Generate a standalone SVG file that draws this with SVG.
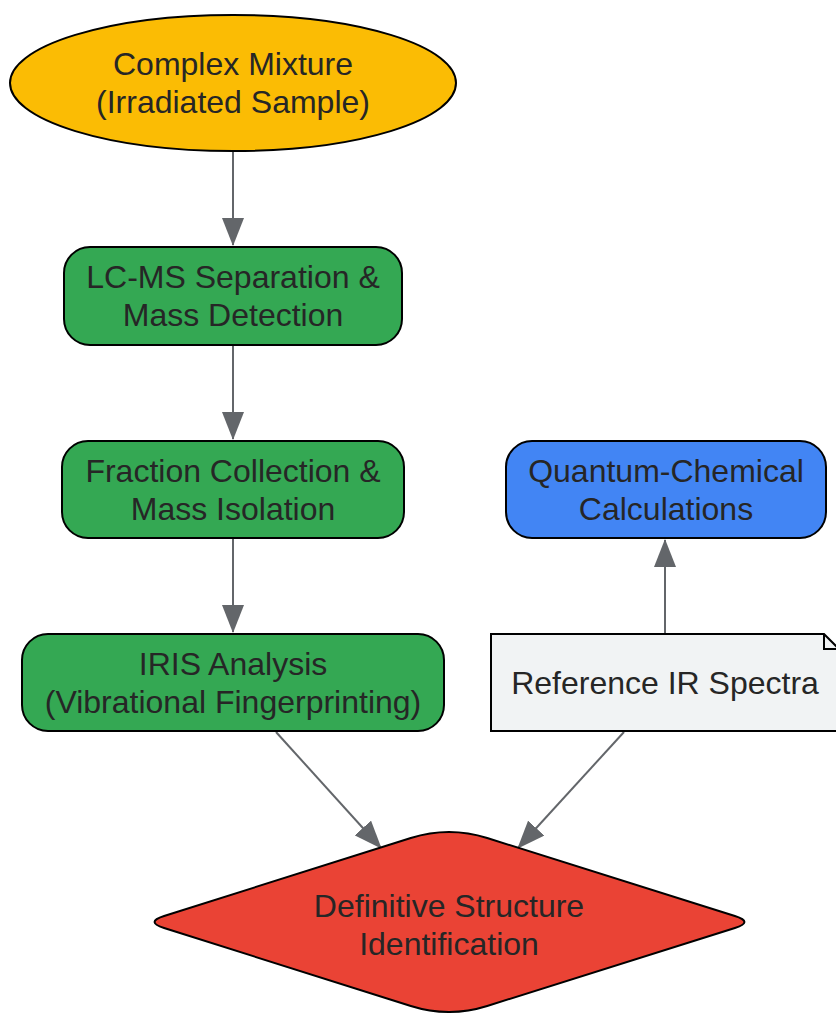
<svg xmlns="http://www.w3.org/2000/svg" width="836" height="1013" viewBox="0 0 836 1013">
<style>
  .node { stroke: #000; stroke-width: 2; }
  .lbl { font-family: "Liberation Sans", Arial, sans-serif; font-size: 32px; fill: #262626; text-anchor: middle; }
  .edge { stroke: #63666a; stroke-width: 2; fill: none; marker-end: url(#arrow); }
</style>
<defs>
  <marker id="arrow" viewBox="0 0 28 22" refX="27" refY="11" markerWidth="28" markerHeight="22" markerUnits="userSpaceOnUse" orient="auto">
    <path d="M0,0 L28,11 L0,22 Z" fill="#63666a"/>
  </marker>
</defs>
<rect width="836" height="1013" fill="#fff"/>
<g id="connectors">
  <path class="edge" d="M233,152 L233,245"/>
  <path class="edge" d="M233,346 L233,439"/>
  <path class="edge" d="M233,539 L233,632"/>
  <path class="edge" d="M665,634 L665,540"/>
  <path class="edge" d="M276,732 L381,848"/>
  <path class="edge" d="M624,732 L518,848"/>
</g>
<g id="mixture">
  <ellipse class="node" cx="233" cy="83" rx="223" ry="68" fill="#fbbc04"/>
  <text class="lbl" x="233" y="75">Complex Mixture</text>
  <text class="lbl" x="233" y="113">(Irradiated Sample)</text>
</g>
<g id="lcms">
  <rect class="node" x="64" y="247" width="338" height="98" rx="26" fill="#34a853"/>
  <text class="lbl" x="233" y="288">LC-MS Separation &amp;</text>
  <text class="lbl" x="233" y="326">Mass Detection</text>
</g>
<g id="fraction">
  <rect class="node" x="62" y="441" width="342" height="97" rx="26" fill="#34a853"/>
  <text class="lbl" x="233" y="482">Fraction Collection &amp;</text>
  <text class="lbl" x="233" y="520">Mass Isolation</text>
</g>
<g id="iris">
  <rect class="node" x="22" y="634" width="422" height="97" rx="26" fill="#34a853"/>
  <text class="lbl" x="233" y="675">IRIS Analysis</text>
  <text class="lbl" x="233" y="713">(Vibrational Fingerprinting)</text>
</g>
<g id="quantum">
  <rect class="node" x="506" y="441" width="320" height="97" rx="26" fill="#4285f4"/>
  <text class="lbl" x="666" y="482">Quantum-Chemical</text>
  <text class="lbl" x="666" y="520">Calculations</text>
</g>
<g id="reference">
  <path class="node" d="M491,634 L824,634 L839,649 L839,731 L491,731 Z" fill="#f1f3f4"/>
  <path class="node" d="M824,634 L824,649 L839,649" fill="none"/>
  <text class="lbl" x="665" y="694">Reference IR Spectra</text>
</g>
<g id="identification">
  <path class="node" d="M410.8,838 Q449,826 487.2,838 L734.9,916 Q754,922 734.9,928 L487.2,1006 Q449,1018 410.8,1006 L164.1,928 Q145,922 164.1,916 Z" fill="#ea4335"/>
  <text class="lbl" x="449" y="917">Definitive Structure</text>
  <text class="lbl" x="449" y="955">Identification</text>
</g>
</svg>
